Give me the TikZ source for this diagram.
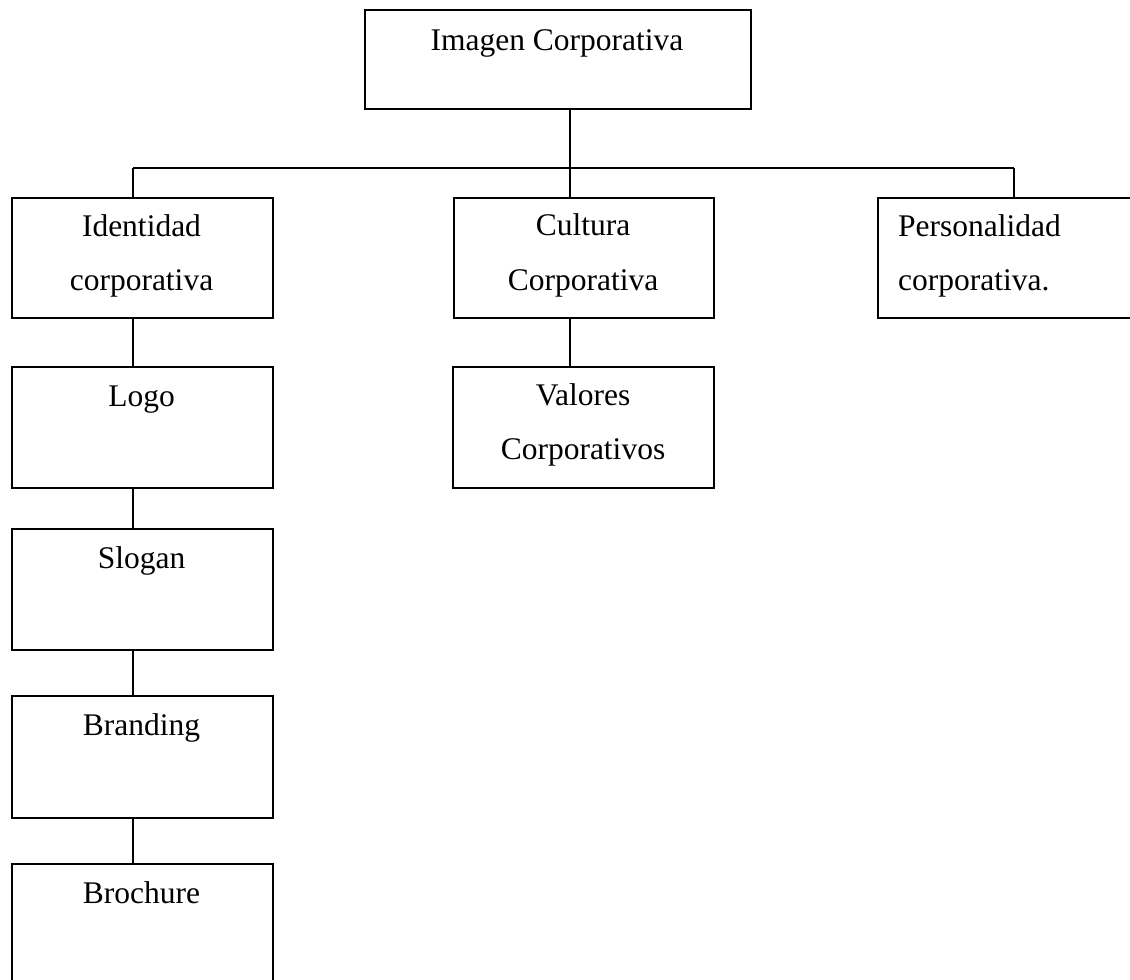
\documentclass[tikz,border=0pt]{standalone}
\usepackage{fontspec}
\setmainfont{Liberation Serif}
\begin{document}
\begin{tikzpicture}[x=1pt,y=-1pt,
  box/.style={draw=black, line width=1.6pt, rectangle, anchor=north west, inner sep=0pt},
  lbl/.style={anchor=base, inner sep=0pt, font=\fontsize{31.5}{36}\selectfont},
  lbll/.style={anchor=base west, inner sep=0pt, font=\fontsize{31.5}{36}\selectfont},
  conn/.style={draw=black, line width=1.6pt}]
\useasboundingbox (0,0) rectangle (1130,980);
% boxes
\node[box, minimum width=386pt, minimum height=99pt] (top) at (364,9) {};
\node[box, minimum width=261pt, minimum height=120pt] (idn) at (11,197) {};
\node[box, minimum width=260pt, minimum height=120pt] (cul) at (453,197) {};
\node[box, minimum width=270pt, minimum height=120pt] (per) at (877,197) {};
\node[box, minimum width=261pt, minimum height=121pt] (val) at (452,366) {};
\node[box, minimum width=261pt, minimum height=121pt] (logo) at (11,366) {};
\node[box, minimum width=261pt, minimum height=121pt] (slo) at (11,528) {};
\node[box, minimum width=261pt, minimum height=122pt] (bra) at (11,695) {};
\node[box, minimum width=261pt, minimum height=130pt] (bro) at (11,863) {};
% texts
\node[lbl] (ttop) at (557,50) {Imagen Corporativa};
\node[lbl] (tidn1) at (141.5,236) {Identidad};
\node[lbl] (tidn2) at (141.5,290) {corporativa};
\node[lbl] (tcul1) at (583,235) {Cultura};
\node[lbl] (tcul2) at (583,290) {Corporativa};
\node[lbll] (tper1) at (898,236) {Personalidad};
\node[lbll] (tper2) at (898,290) {corporativa.};
\node[lbl] (tval1) at (583,405) {Valores};
\node[lbl] (tval2) at (583,459) {Corporativos};
\node[lbl] (tlogo) at (141.5,406) {Logo};
\node[lbl] (tslo) at (141.5,568) {Slogan};
\node[lbl] (tbra) at (141.5,735) {Branding};
\node[lbl] (tbro) at (141.5,903) {Brochure};
% connectors
\coordinate (hl) at (133,168);
\coordinate (hm) at (570,168);
\coordinate (hr) at (1014,168);
\draw[conn] (hm |- top.south) -- (hm);
\draw[conn] (hl) -- (hr);
\draw[conn] (hl) -- (hl |- idn.north);
\draw[conn] (hm) -- (hm |- cul.north);
\draw[conn] (hr) -- (hr |- per.north);
\draw[conn] (hm |- cul.south) -- (hm |- val.north);
\draw[conn] (hl |- idn.south) -- (hl |- logo.north);
\draw[conn] (hl |- logo.south) -- (hl |- slo.north);
\draw[conn] (hl |- slo.south) -- (hl |- bra.north);
\draw[conn] (hl |- bra.south) -- (hl |- bro.north);
\end{tikzpicture}
\end{document}
